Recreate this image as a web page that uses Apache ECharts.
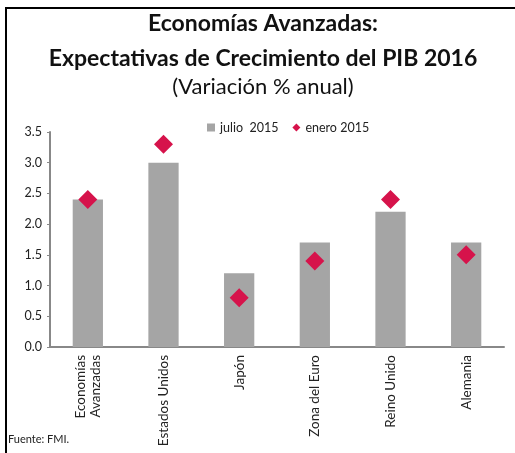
<!DOCTYPE html>
<html>
<head>
<meta charset="utf-8">
<script src="https://cdn.jsdelivr.net/npm/echarts@6/dist/echarts.min.js"></script>
<style>
  html, body { margin: 0; padding: 0; background: #fff; }
  #chart { width: 515px; height: 453px; }
</style>
</head>
<body>
<div id="chart"></div>
<script>
// data
const categories = ['Economías\nAvanzadas', 'Estados Unidos', 'Japón', 'Zona del Euro', 'Reino Unido', 'Alemania'];
const julio2015 = [2.4, 3.0, 1.2, 1.7, 2.2, 1.7];
const enero2015 = [2.4, 3.3, 0.8, 1.4, 2.4, 1.5];

const chart = echarts.init(document.getElementById('chart'));
const FONT = 'Lato, "Open Sans", sans-serif';

const option = {
    animation: false,
    textStyle: { fontFamily: FONT },
    graphic: [
        {
            type: 'rect',
            shape: { x: 6, y: 8, width: 530, height: 470 },
            style: { fill: 'none', stroke: '#000', lineWidth: 2 }
        },
        {
            type: 'text', x: 263, y: 24,
            style: {
                text: 'Economías Avanzadas:',
                fontFamily: FONT, fontSize: 23, fontWeight: 'bold', fill: '#111',
                align: 'center', verticalAlign: 'middle'
            }
        },
        {
            type: 'text', x: 263, y: 59,
            style: {
                text: 'Expectativas de Crecimiento del PIB 2016',
                fontFamily: FONT, fontSize: 23, fontWeight: 'bold', fill: '#111',
                align: 'center', verticalAlign: 'middle'
            }
        },
        {
            type: 'text', x: 263, y: 87,
            style: {
                text: '(Variación % anual)',
                fontFamily: FONT, fontSize: 22, fill: '#111',
                align: 'center', verticalAlign: 'middle'
            }
        },
        {
            type: 'text', left: 8, top: 434,
            style: { text: 'Fuente: FMI.', fontFamily: FONT, fontSize: 11, fill: '#222' }
        }
    ],
    legend: {
        left: 202,
        top: 116,
        itemWidth: 8,
        itemHeight: 8,
        itemGap: 14,
        textStyle: { fontSize: 12.5, color: '#222', fontFamily: FONT },
        data: [
            { name: 'julio  2015', icon: 'rect' },
            { name: 'enero 2015', icon: 'diamond' }
        ]
    },
    grid: { left: 50, right: 11, top: 132, bottom: 106 },
    xAxis: {
        type: 'category',
        data: categories,
        axisLine: { lineStyle: { color: '#888', width: 2 } },
        axisTick: { show: false },
        axisLabel: {
            rotate: 90,
            color: '#222',
            fontSize: 13.5,
            margin: 8,
            lineHeight: 15,
            interval: 0
        }
    },
    yAxis: {
        type: 'value',
        min: 0,
        max: 3.5,
        interval: 0.5,
        splitLine: { show: false },
        axisLine: { show: true, lineStyle: { color: '#888', width: 2 } },
        axisTick: { show: true, length: 3, lineStyle: { color: '#888' } },
        axisLabel: {
            color: '#222',
            fontSize: 12.5,
            margin: 8,
            formatter: v => v.toFixed(1)
        }
    },
    series: [
        {
            name: 'julio  2015',
            type: 'bar',
            data: julio2015,
            barWidth: '40%',
            itemStyle: { color: '#a5a5a5' }
        },
        {
            name: 'enero 2015',
            type: 'scatter',
            data: enero2015,
            symbol: 'diamond',
            symbolSize: [19, 19],
            itemStyle: { color: '#d6134b', opacity: 1 }
        }
    ]
};

chart.setOption(option);
</script>
</body>
</html>
